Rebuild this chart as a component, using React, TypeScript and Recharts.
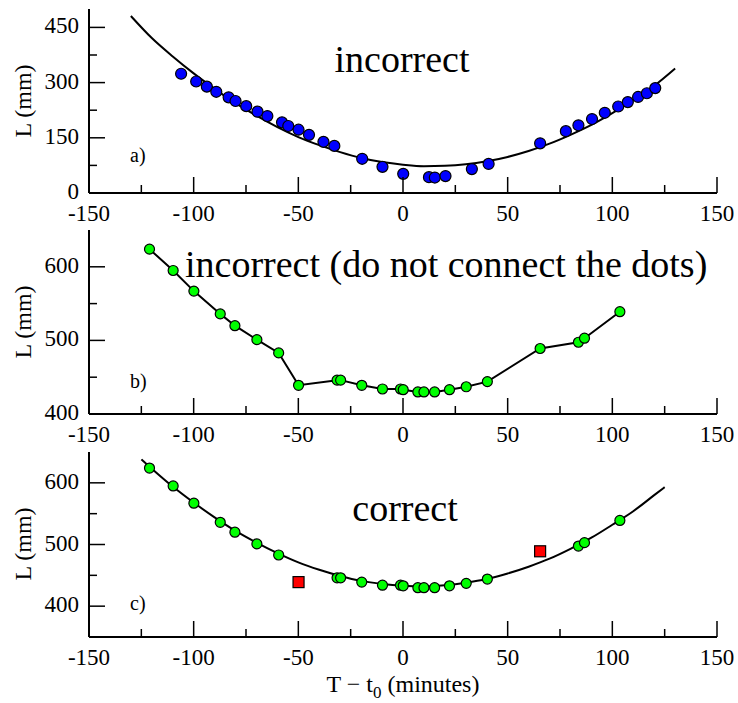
import React from "react"
import { ComposedChart, Scatter, Line, XAxis, YAxis } from "recharts"

// panel a: measured lengths (blue dots)
const aTime = [-106, -98.8, -93.7, -89.2, -83.3, -80, -74.9, -69.5, -64.8, -57.8, -54.8, -49.9, -44.9, -38, -32.8, -19.5, -9.8, 0.1, 12.4, 15.2, 20.3, 32.9, 40.9, 65.5, 77.8, 83.8, 90.3, 96.4, 102.8, 107.4, 112.3, 116.5, 120.5]
const aLength = [324, 303, 289, 275, 260, 250, 236, 221, 209, 192, 182, 172, 158, 139, 128, 93, 71, 52, 43, 42, 46, 65, 79, 135, 168, 184, 201, 218, 235, 247, 261, 271, 285]

// panel a: the (wrong) fit curve
const aFitTime = [-130, -120, -110, -100, -90, -80, -70, -60, -50, -40, -30, -20, -10, 0, 10, 20, 30, 40, 50, 60, 70, 80, 90, 100, 110, 120, 130]
const aFitLength = [481, 421, 371, 325, 283, 244, 210, 179, 152, 130, 111, 95, 84, 77, 73, 74, 78, 86, 98, 114, 134, 158, 185, 217, 252, 291, 338]

// panels b and c: measured lengths (green dots)
const bTime = [-121.1, -109.8, -99.9, -87.3, -80.3, -69.8, -59.4, -49.9, -31.5, -29.8, -19.7, -9.8, -1.2, 0.1, 7.1, 10, 15.1, 22.2, 30.2, 40.3, 65.5, 83.8, 86.7, 103.6]
const bLength = [624, 595, 567, 536, 520, 501, 483, 439, 446, 446, 439, 434, 434, 433, 430, 430, 430, 433, 437, 444, 489, 497.5, 503, 539]

// panel c: points left out of the fit (red squares)
const cOutlierTime = [-49.9, 65.5]

// panel c: the fit curve
const cFitTime = [-125, -120, -110, -100, -90, -80, -70, -60, -50, -40, -30, -20, -10, 0, 10, 20, 30, 40, 50, 60, 70, 80, 90, 100, 110, 120, 125]
const cFitLength = [638, 623, 594, 568, 544, 522, 503, 486, 471, 459, 449, 441, 436, 433, 432, 434, 438, 444, 453, 464, 477, 493, 511, 532, 554, 580, 593]

const xTicks = [-150, -125, -100, -75, -50, -25, 0, 25, 50, 75, 100, 125, 150]
const aTicks = [0, 75, 150, 225, 300, 375, 450]
const bTicks = [400, 450, 500, 550, 600]
const cTicks = [400, 450, 500, 550, 600]

const FONT = "'Liberation Serif', 'Times New Roman', serif"

const pts = (xs: number[], ys: number[]) => xs.map((x, i) => ({ x, y: ys[i] }))

const aDots = pts(aTime, aLength)
const aFit = pts(aFitTime, aFitLength)
const bDots = pts(bTime, bLength)
const cDots = bDots.filter((d) => !cOutlierTime.includes(d.x))
const cOutliers = bDots.filter((d) => cOutlierTime.includes(d.x))
const cFit = pts(cFitTime, cFitLength)

const MAJOR = 16
const MINOR = 8

const xTick = (side: "bottom" | "top") => (props: any) => {
  const { x, y, payload } = props
  const v = payload.value
  const major = v % 50 === 0
  const len = major ? MAJOR : MINOR
  const dir = side === "bottom" ? -1 : 1
  return (
    <g>
      <line x1={x} y1={y} x2={x} y2={y + dir * len} stroke="#000" strokeWidth={1.5} />
      {side === "bottom" && major && (
        <text x={x} y={y + 28} textAnchor="middle" fontSize={23} fontFamily={FONT} fill="#000">
          {v}
        </text>
      )}
    </g>
  )
}

const yTick = (side: "left" | "right", every: number) => (props: any) => {
  const { x, y, payload } = props
  const v = payload.value
  const major = v % every === 0
  const len = major ? MAJOR : MINOR
  const dir = side === "left" ? 1 : -1
  return (
    <g>
      <line x1={x} y1={y} x2={x + dir * len} y2={y} stroke="#000" strokeWidth={1.5} />
      {side === "left" && major && (
        <text x={x - 10} y={y + 6} textAnchor="end" fontSize={23} fontFamily={FONT} fill="#000">
          {v}
        </text>
      )}
    </g>
  )
}

const dot = (fill: string, r: number) => (props: any) => (
  <circle cx={props.cx} cy={props.cy} r={r} fill={fill} stroke="#000" strokeWidth={1.2} />
)

const square = (props: any) => (
  <rect x={props.cx - 5.5} y={props.cy - 5.5} width={11} height={11} fill="#ff0000" stroke="#000" strokeWidth={1.2} />
)

function Panel({ top, height, domain, ticks, every, children }: any) {
  const axisLine = { stroke: "#000", strokeWidth: 2 }
  return (
    <div style={{ position: "absolute", left: 0, top }}>
      <ComposedChart width={738} height={height} margin={{ top: 9, right: 21, bottom: 0, left: 0 }}>
        <XAxis
          dataKey="x"
          type="number"
          domain={[-150, 150]}
          allowDataOverflow
          ticks={xTicks}
          interval={0}
          height={37}
          tickSize={0}
          tickMargin={0}
          tickLine={false}
          axisLine={axisLine}
          tick={xTick("bottom")}
        />
        <XAxis
          xAxisId="top"
          orientation="top"
          type="number"
          domain={[-150, 150]}
          allowDataOverflow
          ticks={xTicks}
          interval={0}
          height={0}
          tickSize={0}
          tickMargin={0}
          tickLine={false}
          axisLine={axisLine}
          tick={xTick("top")}
        />
        <YAxis
          dataKey="y"
          type="number"
          domain={domain}
          allowDataOverflow
          ticks={ticks}
          interval={0}
          width={89}
          tickSize={0}
          tickMargin={0}
          tickLine={false}
          axisLine={axisLine}
          tick={yTick("left", every)}
        />
        <YAxis
          yAxisId="right"
          orientation="right"
          type="number"
          domain={domain}
          allowDataOverflow
          ticks={ticks}
          interval={0}
          width={0}
          tickSize={0}
          tickMargin={0}
          tickLine={false}
          axisLine={axisLine}
          tick={yTick("right", every)}
        />
        {children}
      </ComposedChart>
    </div>
  )
}

export default function App() {
  return (
    <div style={{ position: "absolute", left: 0, top: 0, width: 738, height: 703, background: "#fff" }}>
      <Panel top={0} height={230} domain={[0, 500]} ticks={aTicks} every={150}>
        <Line data={aFit} dataKey="y" type="monotone" stroke="#000" strokeWidth={2} dot={false} isAnimationActive={false} />
        <Scatter data={aDots} dataKey="y" shape={dot("#0000ff", 5.5)} isAnimationActive={false} />
      </Panel>
      <Panel top={221} height={230} domain={[400, 650]} ticks={bTicks} every={100}>
        <Scatter
          data={bDots}
          dataKey="y"
          line={{ stroke: "#000", strokeWidth: 2 }}
          lineType="joint"
          shape={dot("#00ff00", 5)}
          isAnimationActive={false}
        />
      </Panel>
      <Panel top={443} height={231} domain={[350, 650]} ticks={cTicks} every={100}>
        <Scatter data={cDots} dataKey="y" shape={dot("#00ff00", 5)} isAnimationActive={false} />
        <Scatter data={cOutliers} dataKey="y" shape={square} isAnimationActive={false} />
        <Line data={cFit} dataKey="y" type="monotone" stroke="#000" strokeWidth={2} dot={false} isAnimationActive={false} />
      </Panel>
      <svg width={738} height={703} style={{ position: "absolute", left: 0, top: 0, pointerEvents: "none" }} fontFamily={FONT}>
        <text x={402} y={72} textAnchor="middle" fontSize={38}>incorrect</text>
        <text x={185} y={277} fontSize={38}>incorrect (do not connect the dots)</text>
        <text x={405} y={521} textAnchor="middle" fontSize={38}>correct</text>
        <text x={130} y={162} fontSize={20}>a)</text>
        <text x={130} y={388} fontSize={20}>b)</text>
        <text x={130} y={610} fontSize={20}>c)</text>
        <text transform="translate(31,101) rotate(-90)" textAnchor="middle" fontSize={24}>L (mm)</text>
        <text transform="translate(31,322) rotate(-90)" textAnchor="middle" fontSize={24}>L (mm)</text>
        <text transform="translate(31,544) rotate(-90)" textAnchor="middle" fontSize={24}>L (mm)</text>
        <text x={403} y={692} textAnchor="middle" fontSize={24}>
          T − t<tspan dy={6} fontSize={17}>0</tspan>
          <tspan dy={-6}> (minutes)</tspan>
        </text>
      </svg>
    </div>
  )
}
